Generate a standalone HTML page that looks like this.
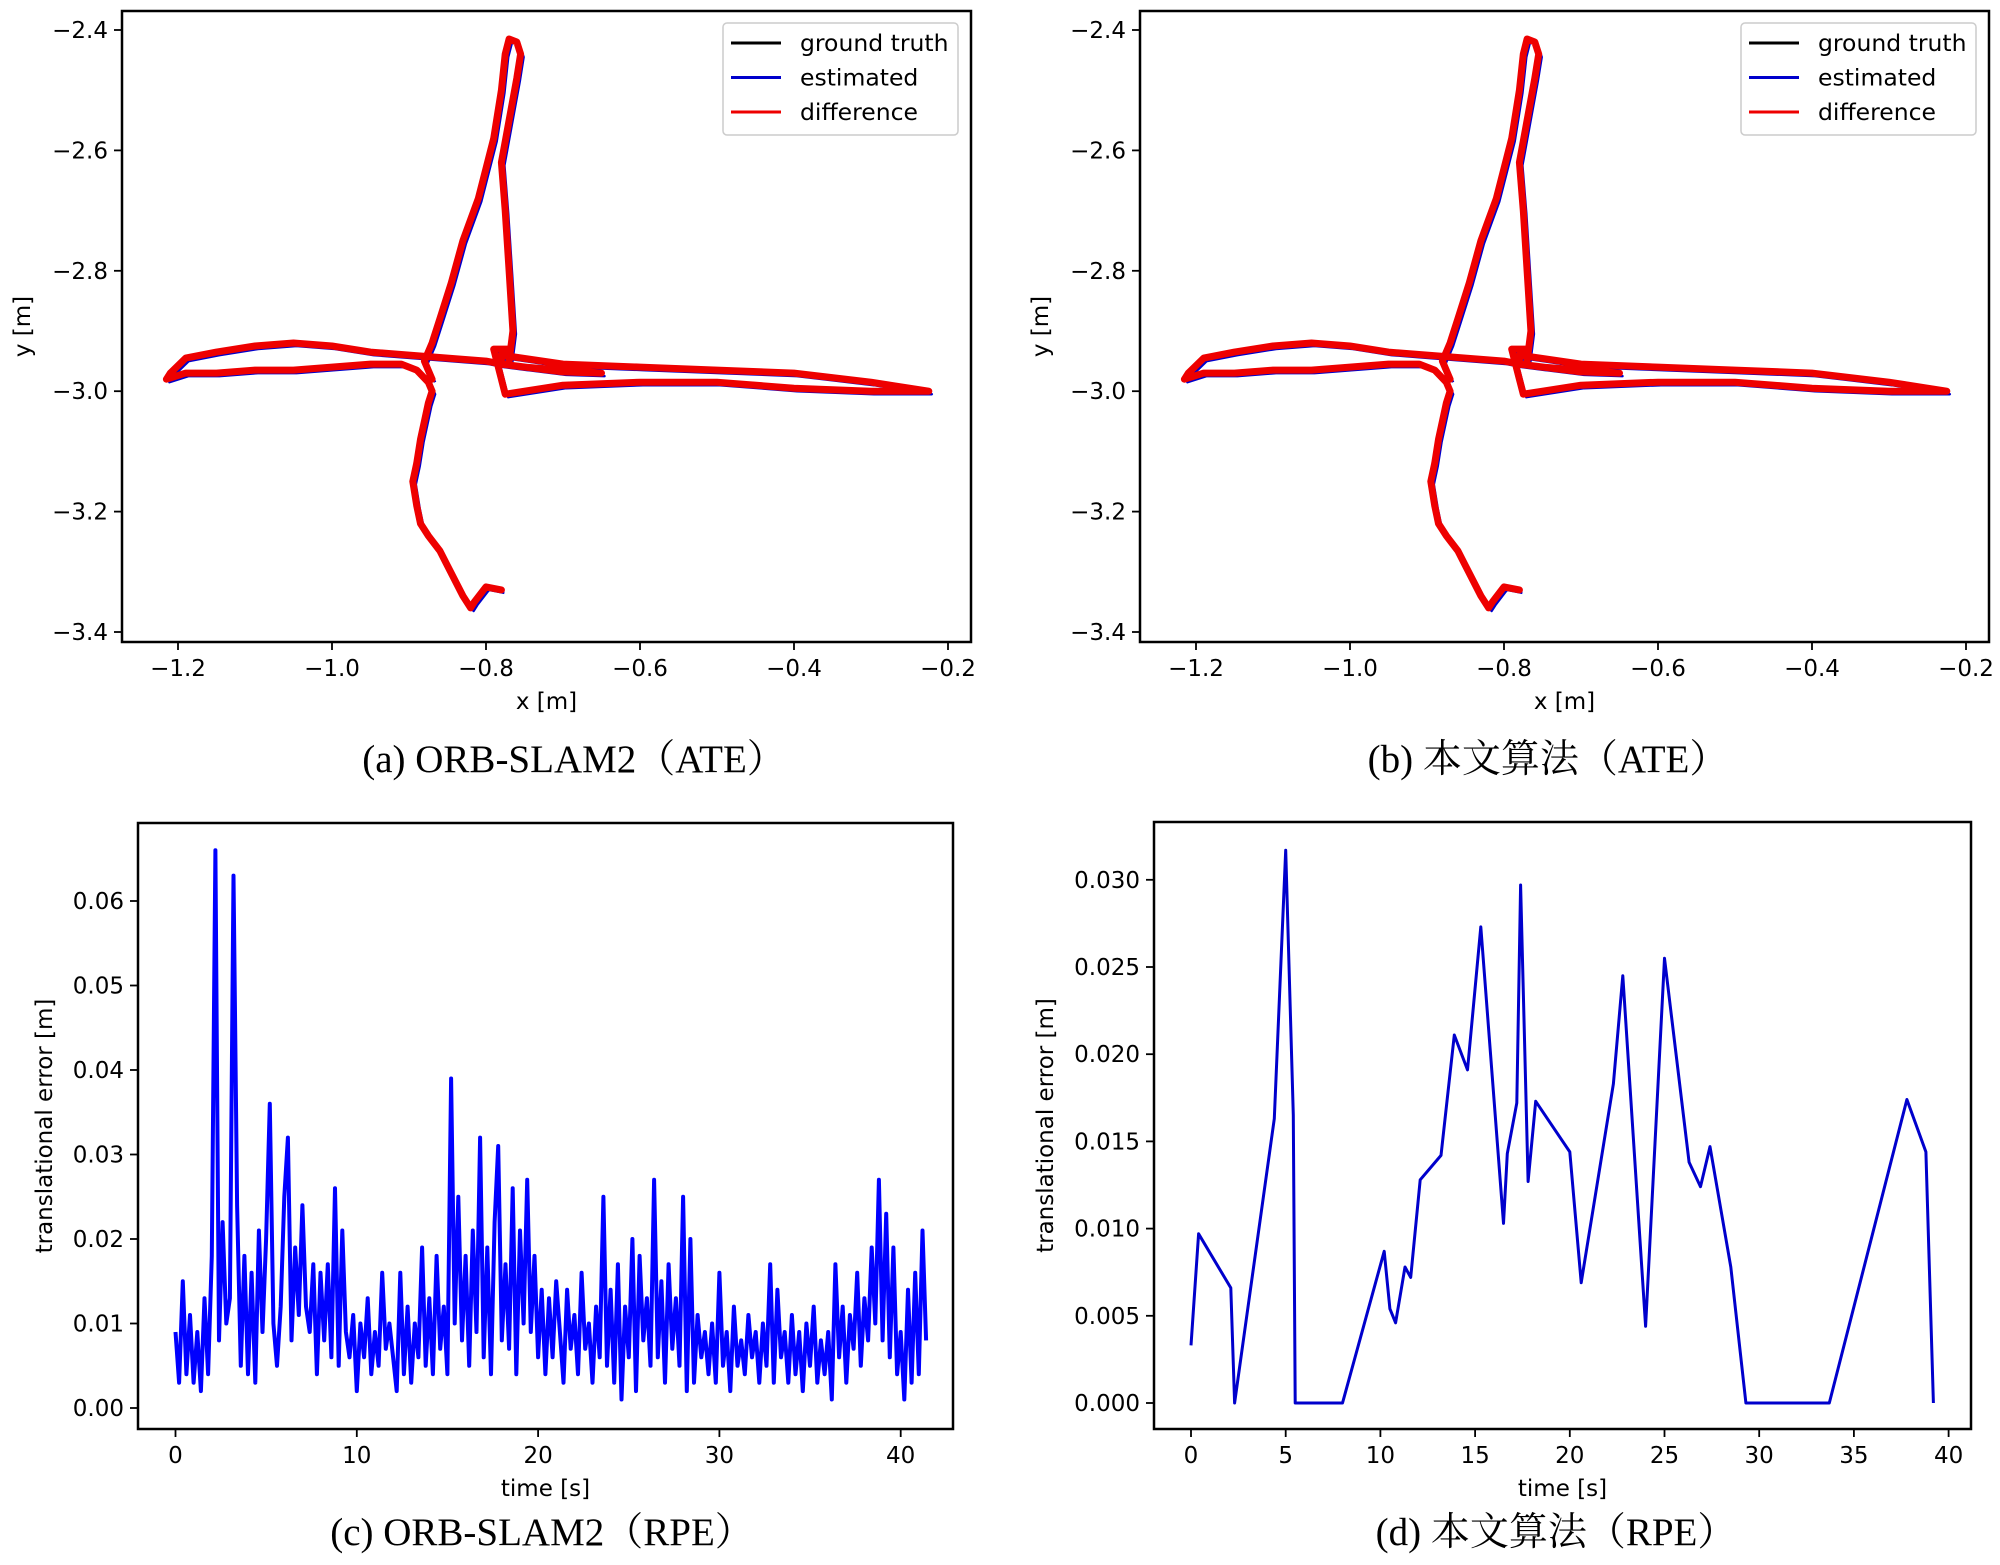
<!DOCTYPE html>
<html><head><meta charset="utf-8"><title>ATE / RPE comparison</title>
<style>
html,body{margin:0;padding:0;background:#fff;}
svg{display:block;}
.tick{font-family:"DejaVu Sans","Liberation Sans",sans-serif;font-size:23px;fill:#000;}
.lab{font-family:"DejaVu Sans","Liberation Sans",sans-serif;font-size:23px;fill:#000;}
.leg{font-family:"DejaVu Sans","Liberation Sans",sans-serif;font-size:23.5px;fill:#000;}
.cap{font-family:"Liberation Serif","Noto Serif CJK SC",serif;font-size:39px;fill:#000;}
</style></head>
<body>
<svg id="fig" width="2000" height="1565" viewBox="0 0 2000 1565" xmlns="http://www.w3.org/2000/svg"></svg>
<script>
// ---- trajectory data (panels a & b) ----
const trajX = [-0.78,-0.80,-0.815,-0.82,-0.83,-0.85,-0.86,-0.875,-0.885,-0.89,-0.895,-0.89,-0.885,-0.88,-0.875,-0.87,-0.875,-0.89,-0.91,-0.95,-1.0,-1.05,-1.1,-1.15,-1.19,-1.215,-1.21,-1.19,-1.15,-1.1,-1.05,-1.0,-0.95,-0.9,-0.85,-0.8,-0.78,-0.75,-0.7,-0.65,-0.7,-0.78,-0.78,-0.7,-0.6,-0.5,-0.4,-0.3,-0.25,-0.225,-0.25,-0.3,-0.4,-0.5,-0.6,-0.7,-0.75,-0.775,-0.78,-0.79,-0.77,-0.77,-0.765,-0.77,-0.775,-0.78,-0.77,-0.76,-0.755,-0.76,-0.77,-0.775,-0.78,-0.79,-0.80,-0.81,-0.83,-0.845,-0.86,-0.87,-0.88,-0.87];
const trajY = [-3.33,-3.325,-3.35,-3.36,-3.34,-3.29,-3.265,-3.24,-3.22,-3.19,-3.15,-3.12,-3.08,-3.05,-3.02,-3.0,-2.985,-2.965,-2.955,-2.955,-2.96,-2.965,-2.965,-2.97,-2.97,-2.98,-2.97,-2.945,-2.935,-2.925,-2.92,-2.925,-2.935,-2.94,-2.945,-2.95,-2.955,-2.96,-2.965,-2.97,-2.968,-2.955,-2.94,-2.955,-2.96,-2.965,-2.97,-2.985,-2.995,-3.0,-3.0,-3.0,-2.995,-2.985,-2.985,-2.99,-3.0,-3.005,-2.98,-2.93,-2.93,-2.95,-2.9,-2.8,-2.7,-2.62,-2.55,-2.48,-2.44,-2.42,-2.415,-2.44,-2.5,-2.58,-2.63,-2.68,-2.75,-2.82,-2.88,-2.92,-2.95,-2.98];
const ateXTicks = [-1.2,-1.0,-0.8,-0.6,-0.4,-0.2];
const ateXTickLabels = ["\u22121.2","\u22121.0","\u22120.8","\u22120.6","\u22120.4","\u22120.2"];
const ateYTicks = [-2.4,-2.6,-2.8,-3.0,-3.2,-3.4];
const ateYTickLabels = ["\u22122.4","\u22122.6","\u22122.8","\u22123.0","\u22123.2","\u22123.4"];
const legendLabels = ["ground truth","estimated","difference"];
const legendColors = ["#000000","#0000cc","#ee0000"];

// ---- RPE ORB-SLAM2 (panel c) ----
const rpeCStep = 0.2;
const rpeCValues = [
0.009,0.003,0.015,0.004,0.011,0.003,0.009,0.002,0.013,0.004,
0.018,0.066,0.008,0.022,0.010,0.013,0.063,0.024,0.005,0.018,
0.004,0.016,0.003,0.021,0.009,0.020,0.036,0.010,0.005,0.012,
0.025,0.032,0.008,0.019,0.011,0.024,0.012,0.009,0.017,0.004,
0.016,0.008,0.017,0.006,0.026,0.005,0.021,0.009,0.006,0.011,
0.002,0.010,0.006,0.013,0.004,0.009,0.005,0.016,0.007,0.010,
0.006,0.002,0.016,0.004,0.012,0.003,0.010,0.006,0.019,0.005,
0.013,0.004,0.018,0.007,0.012,0.004,0.039,0.010,0.025,0.008,
0.018,0.005,0.021,0.009,0.032,0.006,0.019,0.004,0.022,0.031,
0.008,0.017,0.007,0.026,0.004,0.021,0.010,0.027,0.009,0.018,
0.006,0.014,0.004,0.013,0.006,0.015,0.009,0.003,0.014,0.007,
0.011,0.004,0.016,0.007,0.010,0.003,0.012,0.006,0.025,0.005,
0.014,0.003,0.017,0.001,0.012,0.006,0.020,0.002,0.018,0.008,
0.013,0.005,0.027,0.006,0.015,0.003,0.017,0.007,0.013,0.005,
0.025,0.002,0.020,0.003,0.011,0.006,0.009,0.004,0.010,0.003,
0.016,0.005,0.009,0.002,0.012,0.005,0.008,0.004,0.011,0.006,
0.009,0.003,0.010,0.005,0.017,0.003,0.014,0.006,0.009,0.003,
0.011,0.004,0.009,0.002,0.010,0.005,0.012,0.003,0.008,0.004,
0.009,0.001,0.017,0.006,0.012,0.003,0.011,0.007,0.016,0.005,
0.013,0.008,0.019,0.010,0.027,0.008,0.023,0.006,0.019,0.004,
0.009,0.001,0.014,0.003,0.016,0.004,0.021,0.008];
const rpeCXTicks = [0,10,20,30,40];
const rpeCYTicks = [0,0.01,0.02,0.03,0.04,0.05,0.06];
const rpeCYTickLabels = ["0.00","0.01","0.02","0.03","0.04","0.05","0.06"];

// ---- RPE ours (panel d) ----
const rpeDTimes = [0,0.4,2.1,2.3,4.4,5.0,5.4,5.5,8.0,10.2,10.5,10.8,11.3,11.6,12.1,13.2,13.9,14.6,15.3,16.5,16.7,17.2,17.4,17.8,18.2,20.0,20.6,22.3,22.8,24.0,25.0,26.3,26.9,27.4,28.5,29.3,33.7,37.8,38.8,39.2];
const rpeDValues = [0.0033,0.0097,0.0066,0,0.0163,0.0317,0.0165,0,0,0.0087,0.0054,0.0046,0.0078,0.0072,0.0128,0.0142,0.0211,0.0191,0.0273,0.0103,0.0143,0.0172,0.0297,0.0127,0.0173,0.0144,0.0069,0.0183,0.0245,0.0044,0.0255,0.0138,0.0124,0.0147,0.0078,0,0,0.0174,0.0144,0];
const rpeDXTicks = [0,5,10,15,20,25,30,35,40];
const rpeDYTicks = [0,0.005,0.010,0.015,0.020,0.025,0.030];
const rpeDYTickLabels = ["0.000","0.005","0.010","0.015","0.020","0.025","0.030"];

const NS = "http://www.w3.org/2000/svg";
const fig = document.getElementById('fig');
function mk(tag, attrs, parent){
  const e = document.createElementNS(NS, tag);
  for (const k in attrs) e.setAttribute(k, attrs[k]);
  (parent||fig).appendChild(e);
  return e;
}
function txt(s, attrs, parent){
  const e = mk('text', attrs, parent);
  e.textContent = s;
  return e;
}

function drawAxes(g, L, R, T, B, xs, xTicks, xLabels, ys, yTicks, yLabels, xTitle, yTitle, yTitleX){
  const frame = mk('rect', {x:L, y:T, width:R-L, height:B-T, fill:'none', stroke:'#000', 'stroke-width':2.5}, g);
  
  
  xTicks.forEach((v,i)=>{
    const x = xs(v);
    const t = mk('line', {x1:x, x2:x, y1:B, y2:B+8, stroke:'#000', 'stroke-width':1.8}, g);
    
    
    const l = txt(xLabels[i], {x:x, y:B+34, 'text-anchor':'middle', class:'tick'}, g);
    
    
  });
  yTicks.forEach((v,i)=>{
    const y = ys(v);
    const t = mk('line', {x1:L-8, x2:L, y1:y, y2:y, stroke:'#000', 'stroke-width':1.8}, g);
    
    
    const l = txt(yLabels[i], {x:L-14, y:y+8, 'text-anchor':'end', class:'tick'}, g);
    
    
  });
  const xt = txt(xTitle, {x:(L+R)/2, y:B+67, 'text-anchor':'middle', class:'lab'}, g);
  
  
  const cy = (T+B)/2;
  const yt = txt(yTitle, {x:yTitleX, y:cy, 'text-anchor':'middle', class:'lab', transform:'rotate(-90 '+yTitleX+' '+cy+')'}, g);
  
  
}

function pathFrom(xsArr, ysArr, xs, ys, dx, dy){
  let d = '';
  for (let i=0;i<xsArr.length;i++){
    d += (i?'L':'M') + (xs(xsArr[i])+dx).toFixed(1) + ' ' + (ys(ysArr[i])+dy).toFixed(1);
  }
  return d;
}

function atePanel(off, name, caption, capX){
  const g = mk('g', {});
  
  
  const L = 122+off, R = 971+off, T = 11, B = 642;
  const xs = v => 178 + off + (v + 1.2) * 770;
  const ys = v => 30 + (-2.4 - v) * 602;
  const gt = mk('path', {d:pathFrom(trajX, trajY, xs, ys, 0, 0), fill:'none', stroke:'#000', 'stroke-width':2}, g);
  
  
  const est = mk('path', {d:pathFrom(trajX, trajY, xs, ys, 3, 3), fill:'none', stroke:'#0000cc', 'stroke-width':2.5, 'stroke-linejoin':'round'}, g);
  
  
  const diff = mk('path', {d:pathFrom(trajX, trajY, xs, ys, 0, 0), fill:'none', stroke:'#ee0000', 'stroke-width':7, 'stroke-linejoin':'round', 'stroke-linecap':'round'}, g);
  
  
  drawAxes(g, L, R, T, B, xs, ateXTicks, ateXTickLabels, ys, ateYTicks, ateYTickLabels, 'x [m]', 'y [m]', 30+off);
  const lg = mk('g', {}, g);
  
  
  const box = mk('rect', {x:723+off, y:23, width:235, height:112, rx:4, fill:'#fff', stroke:'#cccccc', 'stroke-width':1.5}, lg);
  
  
  legendLabels.forEach((s,i)=>{
    const y = 43 + i*34.5;
    const ln = mk('line', {x1:731+off, x2:781+off, y1:y, y2:y, stroke:legendColors[i], 'stroke-width':3}, lg);
    
    
    const t = txt(s, {x:800+off, y:y+8, class:'leg'}, lg);
    
    
  });
  const c = txt(caption, {x:capX, y:772, 'text-anchor':'middle', class:'cap'}, g);
  
  
}
atePanel(0, 'panel-a-ate-orbslam2', '(a) ORB-SLAM2\uFF08ATE\uFF09', 574);
atePanel(1018, 'panel-b-ate-ours', '(b) 本文算法\uFF08ATE\uFF09', 1548);

// Panel c
(function(){
  const g = mk('g', {});
  
  
  const xs = t => 175.5 + t * 18.13;
  const ys = v => 1408 - v * 8450;
  let d = '';
  rpeCValues.forEach((v,i)=>{ d += (i?'L':'M') + xs(i*rpeCStep).toFixed(1) + ' ' + ys(v).toFixed(1); });
  const ln = mk('path', {d:d, fill:'none', stroke:'#0000ff', 'stroke-width':4, 'stroke-linejoin':'round'}, g);
  
  
  drawAxes(g, 138, 953, 823, 1429, xs, rpeCXTicks, rpeCXTicks.map(String), ys, rpeCYTicks, rpeCYTickLabels, 'time [s]', 'translational error [m]', 52);
  const c = txt('(c) ORB-SLAM2\uFF08RPE\uFF09', {x:542, y:1545, 'text-anchor':'middle', class:'cap'}, g);
  
  
})();

// Panel d
(function(){
  const g = mk('g', {});
  
  
  const xs = t => 1191 + t * 18.94;
  const ys = v => 1403 - v * 17440;
  let d = '';
  rpeDValues.forEach((v,i)=>{ d += (i?'L':'M') + xs(rpeDTimes[i]).toFixed(1) + ' ' + ys(v).toFixed(1); });
  const ln = mk('path', {d:d, fill:'none', stroke:'#0000cc', 'stroke-width':3, 'stroke-linejoin':'round'}, g);
  
  
  drawAxes(g, 1154, 1971, 822, 1429, xs, rpeDXTicks, rpeDXTicks.map(String), ys, rpeDYTicks, rpeDYTickLabels, 'time [s]', 'translational error [m]', 1053);
  const c = txt('(d) 本文算法\uFF08RPE\uFF09', {x:1556, y:1545, 'text-anchor':'middle', class:'cap'}, g);
  
  
})();
</script>
</body></html>
